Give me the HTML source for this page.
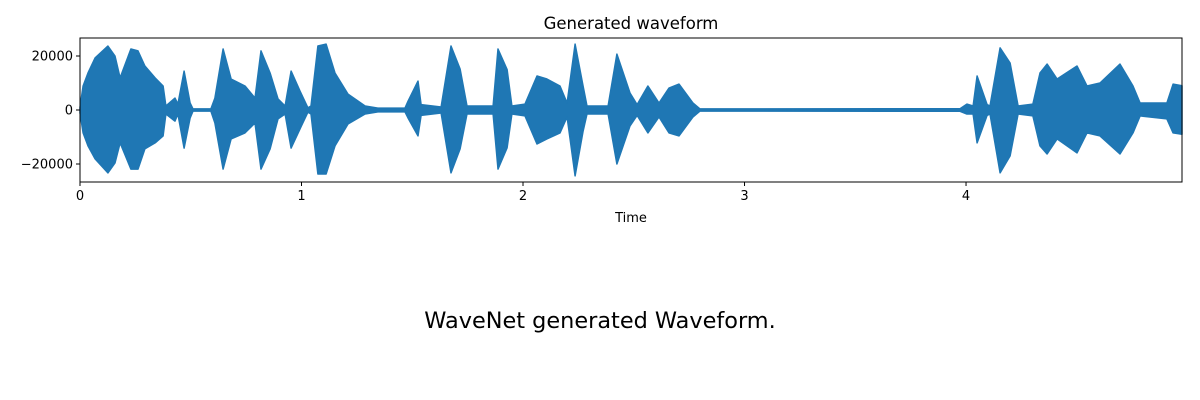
<!DOCTYPE html>
<html><head><meta charset="utf-8">
<style>
html,body{margin:0;padding:0;background:#fff;}
svg{display:block;font-family:"DejaVu Sans","Liberation Sans",sans-serif;}
</style></head>
<body>
<svg id="chart" width="1200" height="400" viewBox="0 0 1200 400">
  <text x="631" y="29" text-anchor="middle" font-size="16.5" fill="#000">Generated waveform</text>
  <g id="plot"></g>
  <text x="631" y="222" text-anchor="middle" font-size="13" fill="#000">Time</text>
  <text x="600" y="328" text-anchor="middle" font-size="22.4" fill="#000">WaveNet generated Waveform.</text>
</svg>
<script>
const times=[0,0.014,0.036,0.068,0.126,0.158,0.181,0.230,0.262,0.293,0.339,0.375,0.388,0.429,0.442,0.470,0.497,0.510,0.591,0.609,0.646,0.682,0.745,0.790,0.817,0.858,0.894,0.926,0.953,0.993,1.029,1.043,1.074,1.111,1.151,1.210,1.287,1.345,1.467,1.481,1.526,1.540,1.630,1.675,1.716,1.747,1.865,1.887,1.928,1.950,2.009,2.063,2.108,2.167,2.199,2.235,2.271,2.289,2.384,2.424,2.483,2.515,2.564,2.614,2.659,2.704,2.767,2.799,3.973,4.004,4.032,4.050,4.095,4.108,4.154,4.199,4.235,4.302,4.334,4.366,4.411,4.501,4.546,4.605,4.695,4.754,4.786,4.907,4.935,4.975];
const upper=[1000,8900,13700,19300,23700,20000,11900,22600,21900,16300,11900,8900,1500,4400,2200,14400,2600,400,400,4400,22600,11500,8900,4400,21900,13700,4100,1500,14400,7000,800,1500,23700,24400,13700,5900,1500,700,700,3300,10700,2000,1100,23700,15200,1500,1500,22600,15000,1500,2200,12600,11500,8900,2600,24400,9000,1500,1500,20700,6300,2000,8900,2600,8100,9600,2600,400,500,2200,1500,12600,2000,1500,23000,17400,1500,2200,13700,17000,11500,16300,8900,10000,17000,8900,2600,2600,9600,9000];
const lower=[-1000,-8500,-13300,-18100,-23300,-19600,-12200,-21900,-21900,-14400,-12200,-9600,-1500,-4100,-1500,-14100,-3000,-400,-400,-4800,-21900,-10700,-8500,-4800,-21900,-14400,-3300,-1500,-14100,-7000,-800,-1500,-23700,-23700,-13300,-5200,-1500,-700,-700,-3000,-9600,-2000,-1100,-23300,-14400,-1500,-1500,-21900,-14000,-1500,-2200,-12600,-10700,-8500,-2600,-24400,-8000,-1500,-1500,-20000,-5900,-2000,-8500,-2600,-8500,-9600,-2600,-400,-500,-1500,-1500,-12200,-2000,-1500,-23300,-17000,-1500,-2200,-13300,-16300,-10700,-15900,-8500,-9600,-16300,-8500,-2200,-3300,-8500,-9000];
const xTicks=[0,1,2,3,4];
const yTicks=[20000,0,-20000];

const NS="http://www.w3.org/2000/svg";
const L=80,R=1182,T=38,B=182;
const xMin=0,xMax=4.975,yMin=-26667,yMax=26667;
const sx=t=>L+(t-xMin)/(xMax-xMin)*(R-L);
const sy=v=>B-(v-yMin)/(yMax-yMin)*(B-T);
const plot=document.getElementById('plot');
function mk(tag,attrs){const e=document.createElementNS(NS,tag);for(const k in attrs)e.setAttribute(k,attrs[k]);plot.appendChild(e);return e;}

let d='M'+sx(times[0])+','+sy(upper[0]);
for(let i=1;i<times.length;i++)d+=' L'+sx(times[i]).toFixed(1)+','+sy(upper[i]).toFixed(1);
for(let i=times.length-1;i>=0;i--)d+=' L'+sx(times[i]).toFixed(1)+','+sy(lower[i]).toFixed(1);
d+=' Z';
const wave=mk('path',{d:d,fill:'#1f77b4',stroke:'#1f77b4','stroke-width':'1.5','stroke-linejoin':'round'});



const frame=mk('rect',{x:L,y:T,width:R-L,height:B-T,fill:'none',stroke:'#000','stroke-width':'1'});



xTicks.forEach(t=>{
  const x=sx(t);
  const tk=mk('line',{x1:x,x2:x,y1:B,y2:B+4,stroke:'#000'});
  
  
  const lb=mk('text',{x:x,y:B+18,'text-anchor':'middle','font-size':'13',fill:'#000'});
  lb.textContent=String(t);
  
  
});
yTicks.forEach(v=>{
  const y=sy(v);
  const tk=mk('line',{x1:L-4,x2:L,y1:y,y2:y,stroke:'#000'});
  
  
  const lb=mk('text',{x:L-7,y:y+4.5,'text-anchor':'end','font-size':'13',fill:'#000'});
  lb.textContent=(v<0?'\u2212'+Math.abs(v):String(v));
  
  
});
</script>
</body></html>
